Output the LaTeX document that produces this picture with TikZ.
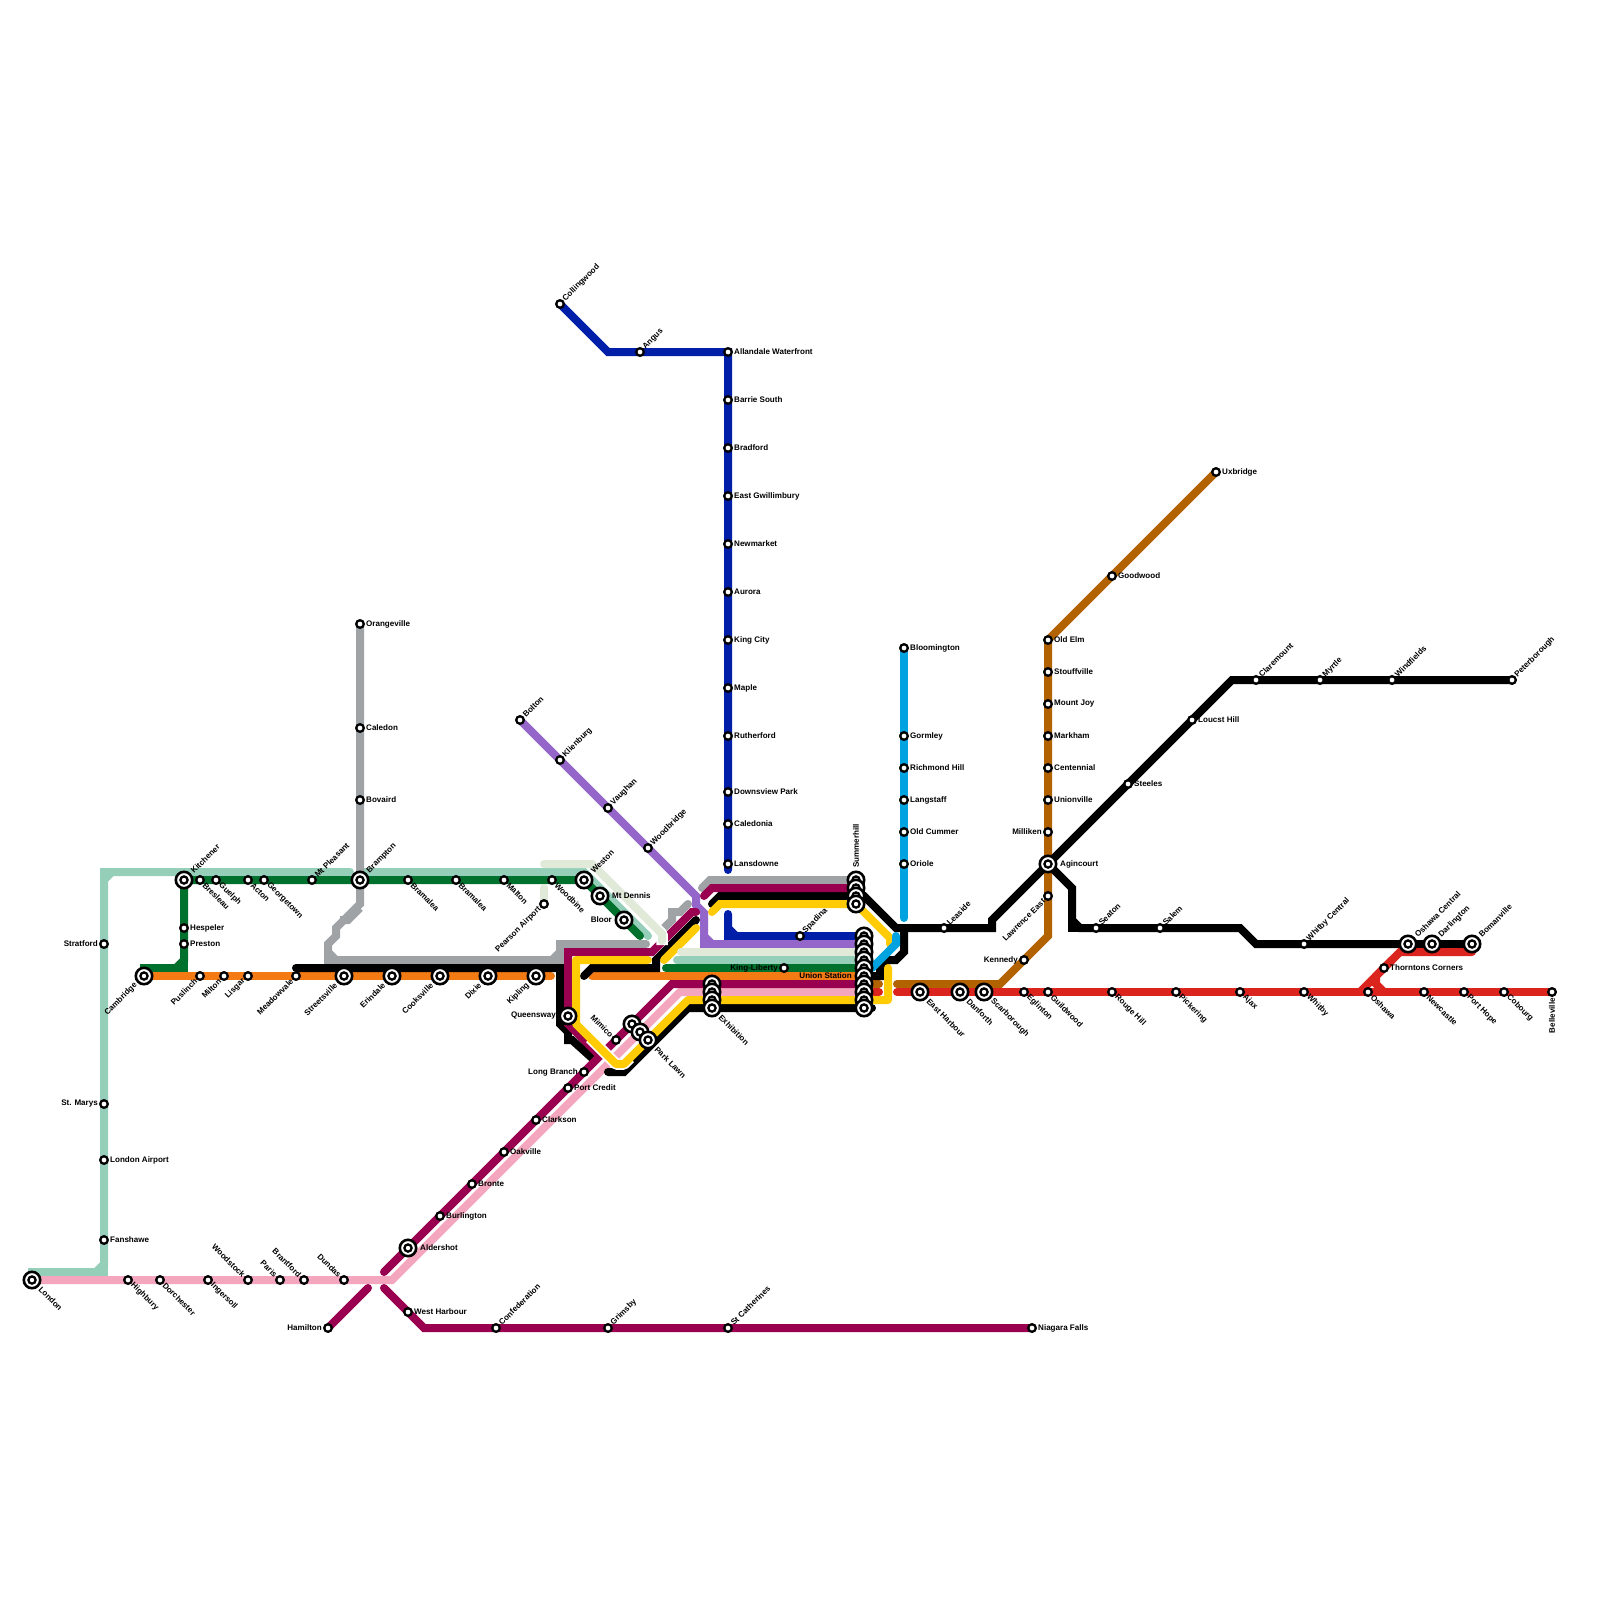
\documentclass[tikz,border=0pt]{standalone}
\usepackage{fontspec}
\setmainfont{Liberation Sans}
\usetikzlibrary{backgrounds}
\definecolor{cNavy}{HTML}{001EA8}
\definecolor{cMint}{HTML}{96CFB9}
\definecolor{cGreen}{HTML}{00702D}
\definecolor{cOrange}{HTML}{F47A14}
\definecolor{cMag}{HTML}{990050}
\definecolor{cPink}{HTML}{F4A6BE}
\definecolor{cYellow}{HTML}{FFCB05}
\definecolor{cGrey}{HTML}{A0A3A6}
\definecolor{cPurple}{HTML}{9566C9}
\definecolor{cSky}{HTML}{00A3E0}
\definecolor{cRed}{HTML}{DC241F}
\definecolor{cBrown}{HTML}{B36200}
\definecolor{cLight}{HTML}{E1E9D9}
\tikzset{
  route/.style={line width=8pt,line cap=round,line join=miter},
  roundroute/.style={line width=8pt,line cap=round,line join=round},
  sharp/.style={line width=8pt,line cap=butt,line join=miter},
  casing/.style={line width=11.5pt,white,line cap=butt,line join=round},
  stopsm/.style={circle,draw=black,fill=white,line width=2.3pt,minimum size=7.6pt,inner sep=0pt},
  stopbig/.style={circle,draw=black,fill=white,line width=2.6pt,minimum size=16.4pt,inner sep=0pt},
  stopin/.style={circle,draw=black,fill=white,line width=2.3pt,minimum size=7.2pt,inner sep=0pt},
  tx/.style={inner sep=0pt,font=\fontsize{8.05}{9}\bfseries\selectfont,text=black},
  labR/.style={tx,anchor=west},
  labL/.style={tx,anchor=east},
  labNE/.style={tx,rotate=45,anchor=west},
  labSE/.style={tx,rotate=-45,anchor=west},
  labSW/.style={tx,rotate=45,anchor=east},
  labNW/.style={tx,rotate=-45,anchor=east},
  labN/.style={tx,rotate=90,anchor=west},
  labS/.style={tx,rotate=90,anchor=east},
}
\def\dxR{6}\def\dyR{0}
\def\dxL{-6}\def\dyL{0}
\def\dxNE{4}\def\dyNE{-4}
\def\dxSE{4}\def\dySE{4}
\def\dxSW{-4}\def\dySW{4}
\def\dxNW{-4}\def\dyNW{-4}
\def\dxN{0}\def\dyN{-6}
\def\dxS{0}\def\dyS{6}
% small station: id, x, y, direction, text
\newcommand\stn[5]{%
  \node[stopsm] (#1) at (#2,#3) {};
  \edef\ax{\the\numexpr #2+\csname dx#4\endcsname\relax}%
  \edef\ay{\the\numexpr #3+\csname dy#4\endcsname\relax}%
  \node[lab#4] (#1-t) at (\ax,\ay) {#5};}
% interchange: id, x, y, direction, text
\newcommand\xcn[3]{%
  \node[stopbig] (#1) at (#2,#3) {};
  \node[stopin] (#1-i) at (#2,#3) {};}
\newcommand\xch[5]{%
  \xcn{#1}{#2}{#3}%
  \edef\ax{\the\numexpr #2+\csname dx#4\endcsname*2\relax}%
  \edef\ay{\the\numexpr #3+\csname dy#4\endcsname*2\relax}%
  \node[lab#4] (#1-t) at (\ax,\ay) {#5};}
\begin{document}
\begin{tikzpicture}[x=1pt,y=-1pt]
\useasboundingbox (0,0) rectangle (1600,1600);
% west
\xch{london}{32}{1280}{SE}{London}
\stn{highbury}{128}{1280}{SE}{Highbury}
\stn{dorchester}{160}{1280}{SE}{Dorchester}
\stn{ingersoll}{208}{1280}{SE}{Ingersoll}
\stn{woodstock}{248}{1280}{NW}{Woodstock}
\stn{paris}{280}{1280}{NW}{Paris}
\stn{brantford}{304}{1280}{NW}{Brantford}
\stn{dundas}{344}{1280}{NW}{Dundas}
\stn{stratford}{104}{944}{L}{Stratford}
\stn{stmarys}{104}{1104}{L}{St. Marys}
\stn{lonair}{104}{1160}{R}{London Airport}
\stn{fanshawe}{104}{1240}{R}{Fanshawe}
\xch{kitchener}{184}{880}{NE}{Kitchener}
\stn{bresleau}{200}{880}{SE}{Bresleau}
\stn{guelph}{216}{880}{SE}{Guelph}
\stn{acton}{248}{880}{SE}{Acton}
\stn{georgetown}{264}{880}{SE}{Georgetown}
\stn{mtpleasant}{312}{880}{NE}{Mt Pleasant}
\xch{brampton}{360}{880}{NE}{Brampton}
\stn{bramaleaA}{408}{880}{SE}{Bramalea}
\stn{bramaleaB}{456}{880}{SE}{Bramalea}
\stn{malton}{504}{880}{SE}{Malton}
\stn{woodbine}{552}{880}{SE}{Woodbine}
\stn{pearson}{544}{904}{SW}{Pearson Airport}
\xch{weston}{584}{880}{NE}{Weston}
\xch{mtdennis}{600}{896}{R}{Mt Dennis}
\xch{bloor}{624}{920}{L}{Bloor}
\stn{hespeler}{184}{928}{R}{Hespeler}
\stn{preston}{184}{944}{R}{Preston}
\xch{cambridge}{144}{976}{SW}{Cambridge}
\stn{puslinch}{200}{976}{SW}{Puslinch}
\stn{milton}{224}{976}{SW}{Milton}
\stn{lisgar}{248}{976}{SW}{Lisgar}
\stn{meadowvale}{296}{976}{SW}{Meadowvale}
\xch{streetsville}{344}{976}{SW}{Streetsville}
\xch{erindale}{392}{976}{SW}{Erindale}
\xch{cooksville}{440}{976}{SW}{Cooksville}
\xch{dixie}{488}{976}{SW}{Dixie}
\xch{kipling}{536}{976}{SW}{Kipling}
\stn{orangeville}{360}{624}{R}{Orangeville}
\stn{caledon}{360}{728}{R}{Caledon}
\stn{bovaird}{360}{800}{R}{Bovaird}
% lakeshore west
\xch{queensway}{568}{1016}{L}{Queensway}
\stn{mimico}{616}{1040}{NW}{Mimico}
\stn{longbranch}{584}{1072}{L}{Long Branch}
\stn{portcredit}{568}{1088}{R}{Port Credit}
\stn{clarkson}{536}{1120}{R}{Clarkson}
\stn{oakville}{504}{1152}{R}{Oakville}
\stn{bronte}{472}{1184}{R}{Bronte}
\stn{burlington}{440}{1216}{R}{Burlington}
\xch{aldershot}{408}{1248}{R}{Aldershot}
\stn{westharbour}{408}{1312}{R}{West Harbour}
\stn{hamilton}{328}{1328}{L}{Hamilton}
\stn{confederation}{496}{1328}{NE}{Confederation}
\stn{grimsby}{608}{1328}{NE}{Grimsby}
\stn{stcath}{728}{1328}{NE}{St Catherines}
\stn{niagara}{1032}{1328}{R}{Niagara Falls}
\xcn{mA}{632}{1024}
\xcn{mB}{640}{1032}
\xch{parklawn}{648}{1040}{SE}{Park Lawn}
\xcn{exA}{712}{984}
\xcn{exB}{712}{992}
\xcn{exC}{712}{1000}
\xch{exhibition}{712}{1008}{SE}{Exhibition}
% north
\stn{collingwood}{560}{304}{NE}{Collingwood}
\stn{angus}{640}{352}{NE}{Angus}
\stn{allandale}{728}{352}{R}{Allandale Waterfront}
\stn{barrie}{728}{400}{R}{Barrie South}
\stn{bradford}{728}{448}{R}{Bradford}
\stn{eastg}{728}{496}{R}{East Gwillimbury}
\stn{newmarket}{728}{544}{R}{Newmarket}
\stn{aurora}{728}{592}{R}{Aurora}
\stn{kingcity}{728}{640}{R}{King City}
\stn{maple}{728}{688}{R}{Maple}
\stn{rutherford}{728}{736}{R}{Rutherford}
\stn{downsview}{728}{792}{R}{Downsview Park}
\stn{caledonia}{728}{824}{R}{Caledonia}
\stn{lansdowne}{728}{864}{R}{Lansdowne}
\stn{bolton}{520}{720}{NE}{Bolton}
\stn{klienburg}{560}{760}{NE}{Klienburg}
\stn{vaughan}{608}{808}{NE}{Vaughan}
\stn{woodbridge}{648}{848}{NE}{Woodbridge}
\stn{spadina}{800}{936}{NE}{Spadina}
\stn{kingliberty}{784}{968}{L}{King-Liberty}
\xch{summerhill}{856}{880}{N}{Summerhill}
\xcn{suB}{856}{888}
\xcn{suC}{856}{896}
\xcn{suD}{856}{904}
\xcn{unA}{864}{936}
\xcn{unB}{864}{944}
\xcn{unC}{864}{952}
\xcn{unD}{864}{960}
\xcn{unE}{864}{968}
\xch{union}{864}{976}{L}{Union Station}
\xcn{unG}{864}{984}
\xcn{unH}{864}{992}
\xcn{unI}{864}{1000}
\xcn{unJ}{864}{1008}
% north-east
\stn{bloomington}{904}{648}{R}{Bloomington}
\stn{gormley}{904}{736}{R}{Gormley}
\stn{richmond}{904}{768}{R}{Richmond Hill}
\stn{langstaff}{904}{800}{R}{Langstaff}
\stn{oldcummer}{904}{832}{R}{Old Cummer}
\stn{oriole}{904}{864}{R}{Oriole}
\stn{uxbridge}{1216}{472}{R}{Uxbridge}
\stn{goodwood}{1112}{576}{R}{Goodwood}
\stn{oldelm}{1048}{640}{R}{Old Elm}
\stn{stouffville}{1048}{672}{R}{Stouffville}
\stn{mountjoy}{1048}{704}{R}{Mount Joy}
\stn{markham}{1048}{736}{R}{Markham}
\stn{centennial}{1048}{768}{R}{Centennial}
\stn{unionville}{1048}{800}{R}{Unionville}
\stn{milliken}{1048}{832}{L}{Milliken}
\xch{agincourt}{1048}{864}{R}{Agincourt}
\stn{lawrence}{1048}{896}{SW}{Lawrence East}
\stn{kennedy}{1024}{960}{L}{Kennedy}
\stn{leaside}{944}{928}{NE}{Leaside}
\stn{seaton}{1096}{928}{NE}{Seaton}
\stn{salem}{1160}{928}{NE}{Salem}
\stn{whitbyc}{1304}{944}{NE}{Whitby Central}
\xch{oshawac}{1408}{944}{NE}{Oshawa Central}
\xch{darlington}{1432}{944}{NE}{Darlington}
\xch{bomanville}{1472}{944}{NE}{Bomanville}
\stn{steeles}{1128}{784}{R}{Steeles}
\stn{loucst}{1192}{720}{R}{Loucst Hill}
\stn{claremount}{1256}{680}{NE}{Claremount}
\stn{myrtle}{1320}{680}{NE}{Myrtle}
\stn{windfields}{1392}{680}{NE}{Windfields}
\stn{peterborough}{1512}{680}{NE}{Peterborough}
\stn{thorntons}{1384}{968}{R}{Thorntons Corners}
% east
\xch{eastharbour}{920}{992}{SE}{East Harbour}
\xch{danforth}{960}{992}{SE}{Danforth}
\xch{scarborough}{984}{992}{SE}{Scarborough}
\stn{eglinton}{1024}{992}{SE}{Eglinton}
\stn{guildwood}{1048}{992}{SE}{Guildwood}
\stn{rougehill}{1112}{992}{SE}{Rouge Hill}
\stn{pickering}{1176}{992}{SE}{Pickering}
\stn{ajax}{1240}{992}{SE}{Ajax}
\stn{whitby}{1304}{992}{SE}{Whitby}
\stn{oshawa}{1368}{992}{SE}{Oshawa}
\stn{newcastle}{1424}{992}{SE}{Newcastle}
\stn{porthope}{1464}{992}{SE}{Port Hope}
\stn{cobourg}{1504}{992}{SE}{Cobourg}
\stn{belleville}{1552}{992}{S}{Belleville}
%
\begin{scope}[on background layer]
\fill[white] (0,0) rectangle (1600,1600);
% mint
\draw[route,cMint] (london.center) -- (32,1272) -- (96,1272) -- (104,1264) -- (104,880) -- (112,872) -- (350,872);
\draw[sharp,cMint] (88,1272) -- (104,1272) -- (104,1256);
\draw[sharp,cMint] (104,888) -- (104,872) -- (120,872);
\draw[route,cMint] (364,872) -- (584,872) -- (648,936);
\draw[route,cMint] (677,960) -- (unD.center);
% green
\draw[route,cGreen] (cambridge.center) -- (144,968) -- (176,968) -- (184,960) -- (kitchener.center) -- (weston.center) -- (640,936);
\draw[sharp,cGreen] (168,968) -- (184,968) -- (184,952);
\draw[route,cGreen] (666,968) -- (unE.center);
% orange
\draw[route,cOrange] (cambridge.center) -- (551,976);
\draw[route,cOrange] (592,976) -- (union.center);
% grey
\draw[route,cGrey] (orangeville.center) -- (360,904) -- (344,920) -- (336,928) -- (336,936) -- (328,944) -- (328,952) -- (336,960) -- (552,960) -- (560,952) -- (560,944) -- (646,944);
\draw[sharp,cGrey] (360,908) -- (348,920) -- (340,920);
\draw[sharp,cGrey] (328,944) -- (328,960) -- (344,960);
\draw[sharp,cGrey] (544,960) -- (560,960) -- (560,948);
\draw[route,cGrey] (664,928) -- (672,920) -- (672,912) -- (680,912) -- (688,904);
\draw[route,cGrey] (702,888) -- (710,880) -- (summerhill.center);
% navy
\draw[route,cNavy] (collingwood.center) -- (608,352) -- (720,352) -- (allandale.center) -- (728,870);
\draw[sharp,cNavy] (712,352) -- (728,352) -- (728,368);
\draw[route,cNavy] (728,914) -- (728,928) -- (736,936) -- (unA.center);
\draw[sharp,cNavy] (728,920) -- (728,936) -- (744,936);
% purple
\draw[route,cPurple] (bolton.center) -- (696,896) -- (696,905) -- (704,913) -- (704,936) -- (712,944) -- (unB.center);
\draw[sharp,cPurple] (704,928) -- (704,944) -- (720,944);
% brown
\draw[route,cBrown] (uxbridge.center) -- (oldelm.center) -- (1048,936) -- (1000,984) -- (897,984);
\draw[route,cBrown] (unG.center) -- (879,984);
% pink
\draw[route,cPink] (london.center) -- (392,1280) -- (680,992) -- (unH.center);
% black
\draw[route,black] (296,968) -- (560,968) -- (560,1024) -- (568,1032) -- (568,1040) -- (572,1040) -- (592,1058);
\draw[route,black] (608,1072) -- (624,1072) -- (688,1008) -- (872,1008);
\draw[route,black] (584,976) -- (592,968) -- (656,968) -- (656,960) -- (696,920);
\draw[route,black] (712,904) -- (720,896) -- (suC.center) -- (864,896) -- (896,928) -- (992,928) -- (992,920) -- (agincourt.center) -- (1232,680) -- (peterborough.center);
\draw[sharp,black] (976,928) -- (992,928) -- (992,925);
\draw[route,black] (904,928) -- (904,952) -- (896,960) -- (888,960) -- (880,968) -- (880,976) -- (union.center);
\draw[route,black] (agincourt.center) -- (1072,888) -- (1072,920) -- (1080,928) -- (1240,928) -- (1256,944) -- (bomanville.center);
\draw[sharp,black] (1072,912) -- (1072,928) -- (1088,928);
% magenta
\draw[route,cMag] (aldershot.center) -- (384,1272);
\draw[route,cMag] (aldershot.center) -- (672,984) -- (unG.center);
\draw[route,cMag] (600,1056) -- (568,1024) -- (568,952) -- (652,952) -- (692,912) -- (696,912);
\draw[route,cMag] (704,896) -- (712,888) -- (suB.center);
\draw[route,cMag] (hamilton.center) -- (368,1288);
\draw[route,cMag] (384,1288) -- (424,1328) -- (niagara.center);
% yellow
\draw[casing] (590,1038) -- (616,1064) -- (624,1064) -- (630,1058);
\draw[roundroute,cYellow] (648,960) -- (576,960) -- (576,1024) -- (616,1064) -- (624,1064) -- (688,1000) -- (888,1000) -- (888,968);
\draw[route,cYellow] (664,960) -- (696,928);
\draw[route,cYellow] (712,912) -- (720,904) -- (suD.center) -- (864,912) -- (890,938) -- (890,944);
% light green
\draw[route,cLight] (pearson.center) -- (544,888);
\draw[casing] (640,912) -- (662,934) -- (662,945);
\draw[route,cLight] (544,864) -- (592,864) -- (662,934) -- (662,941);
\draw[route,cLight] (681,952) -- (unC.center);
% sky
\draw[route,cSky] (bloomington.center) -- (904,918);
\draw[route,cSky] (896,936) -- (896,944) -- (872,968);
% red
\draw[route,cRed] (unH.center) -- (879,992);
\draw[route,cRed] (897,992) -- (belleville.center);
\draw[route,cRed] (1360,992) -- (1400,952) -- (1472,952);
\draw[route,cRed] (1392,960) -- (1376,976) -- (1376,984) -- (1384,992);
\end{scope}
\end{tikzpicture}
\end{document}
